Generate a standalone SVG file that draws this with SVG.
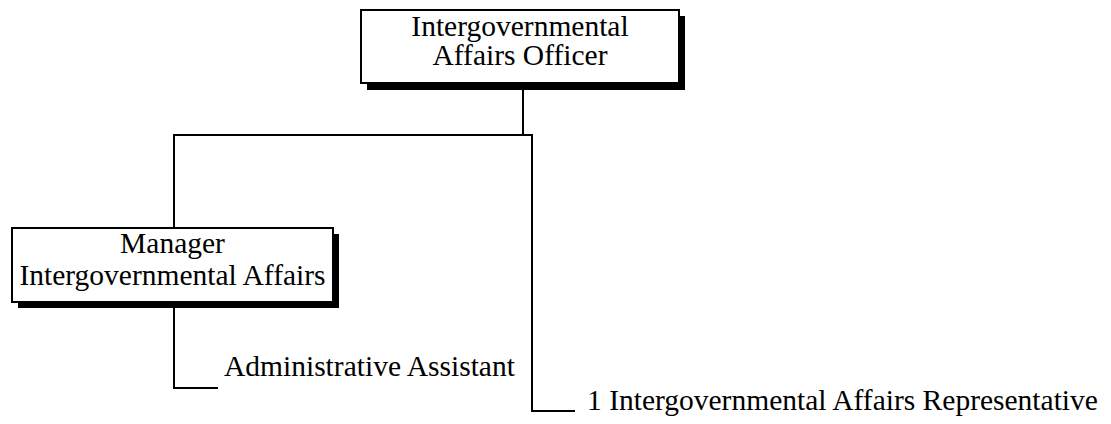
<svg xmlns="http://www.w3.org/2000/svg" width="1111" height="424" viewBox="0 0 1111 424">
<style>
text{font-family:"Liberation Serif","Times New Roman",serif;font-size:29.5px;fill:#000}
.box{fill:#fff;stroke:#000;stroke-width:2}
.sh{fill:#000}
.c{fill:none;stroke:#000;stroke-width:2}
</style>
<rect width="1111" height="424" fill="#fff"/>
<g id="connectors">
<polyline class="c" points="523,90 523,135"/>
<polyline class="c" points="174,228 174,135 532,135 532,411 575,411"/>
<polyline class="c" points="174,308 174,388 218,388"/>
</g>
<g id="officer">
<rect class="sh" x="367" y="16" width="318" height="74"/>
<rect class="box" x="361" y="10" width="318" height="73"/>
<text x="520" y="36" text-anchor="middle">Intergovernmental</text>
<text x="520" y="65" text-anchor="middle">Affairs Officer</text>
</g>
<g id="manager">
<rect class="sh" x="18" y="234" width="321" height="74"/>
<rect class="box" x="12" y="228" width="321" height="74"/>
<text x="172.5" y="253" text-anchor="middle">Manager</text>
<text x="172.5" y="285" text-anchor="middle">Intergovernmental Affairs</text>
</g>
<g id="assistant">
<text x="224" y="376">Administrative Assistant</text>
</g>
<g id="representative">
<text x="587" y="410">1 Intergovernmental Affairs Representative</text>
</g>
</svg>
